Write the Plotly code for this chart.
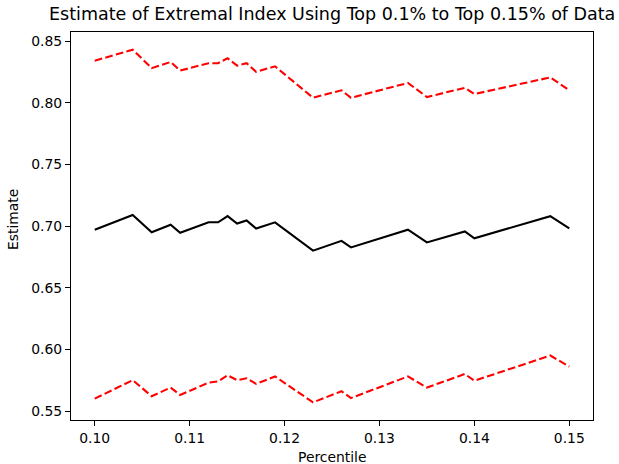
import plotly.graph_objects as go

# Percentile thresholds (fraction of data in the upper tail)
percentile = [0.100, 0.104, 0.106, 0.108, 0.109, 0.112, 0.113, 0.114, 0.115, 0.116,
              0.117, 0.119, 0.123, 0.126, 0.127, 0.133, 0.135, 0.139, 0.140, 0.148, 0.150]

# Extremal index point estimate
estimate = [0.697, 0.709, 0.695, 0.701, 0.6945, 0.703, 0.703, 0.708, 0.702, 0.7045,
            0.698, 0.703, 0.680, 0.688, 0.6826, 0.697, 0.6867, 0.6956, 0.690, 0.708, 0.698]

# Upper and lower confidence bounds
upper = [0.834, 0.843, 0.828, 0.833, 0.826, 0.832, 0.832, 0.836, 0.830, 0.832,
         0.825, 0.8295, 0.804, 0.810, 0.804, 0.816, 0.8046, 0.812, 0.807, 0.8205, 0.810]
lower = [0.560, 0.575, 0.562, 0.569, 0.563, 0.573, 0.574, 0.579, 0.575, 0.5765,
         0.572, 0.578, 0.557, 0.566, 0.5605, 0.578, 0.569, 0.580, 0.5745, 0.595, 0.586]

x_ticks = [0.10, 0.11, 0.12, 0.13, 0.14, 0.15]
y_ticks = [0.55, 0.60, 0.65, 0.70, 0.75, 0.80, 0.85]

FONT = "DejaVu Sans"
dash = "7.7px,3.3px"

fig = go.Figure()
fig.add_trace(go.Scatter(x=percentile, y=estimate, mode="lines",
                         line=dict(color="#000000", width=2.1), showlegend=False))
fig.add_trace(go.Scatter(x=percentile, y=upper, mode="lines",
                         line=dict(color="#ff0000", width=2.1, dash=dash), showlegend=False))
fig.add_trace(go.Scatter(x=percentile, y=lower, mode="lines",
                         line=dict(color="#ff0000", width=2.1, dash=dash), showlegend=False))

# axis limits with a 5% margin around the data
def padded(vals):
    lo, hi = min(vals), max(vals)
    m = (hi - lo) * 0.05
    return [lo - m, hi + m]

all_y = estimate + upper + lower

axis_common = dict(
    showline=True, linecolor="black", linewidth=1.1, mirror=True,
    ticks="outside", ticklen=5, tickwidth=1.1, tickcolor="black",
    showgrid=False, zeroline=False,
    tickfont=dict(family=FONT, size=13.9, color="black"),
    tickformat=".2f",
)

fig.update_layout(
    width=619, height=464,
    margin=dict(l=70.5, r=26, t=32, b=44),
    paper_bgcolor="white", plot_bgcolor="white",
    font=dict(family=FONT, color="black"),
    xaxis=dict(range=padded(percentile), tickvals=x_ticks, **axis_common),
    yaxis=dict(range=padded(all_y), tickvals=y_ticks, **axis_common),
    annotations=[
        dict(text="Estimate of Extremal Index Using Top 0.1% to Top 0.15% of Data",
             xref="paper", yref="paper", x=0.5, y=1, yshift=18, showarrow=False,
             xanchor="center", yanchor="middle",
             font=dict(family=FONT, size=17.5, color="black")),
        dict(text="Percentile", xref="paper", yref="paper", x=0.5, y=0, yshift=-36.5,
             showarrow=False, xanchor="center", yanchor="middle",
             font=dict(family=FONT, size=13.9, color="black")),
        dict(text="Estimate", xref="paper", yref="paper", x=0, y=0.5, xshift=-58,
             yshift=6, textangle=-90, showarrow=False, xanchor="center", yanchor="middle",
             font=dict(family=FONT, size=13.9, color="black")),
    ],
)

fig.write_html("out.html")
